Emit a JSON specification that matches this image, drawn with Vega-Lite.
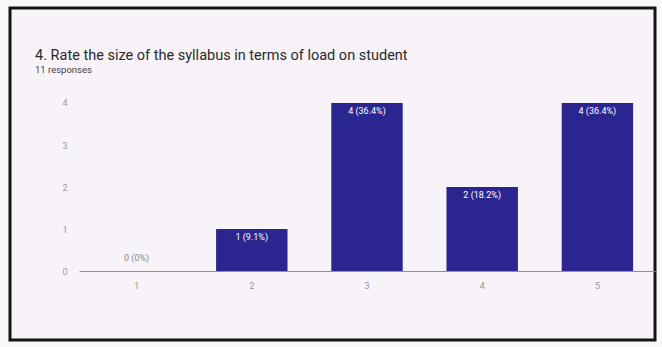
{
  "$schema": "https://vega.github.io/schema/vega-lite/v6.json",
  "autosize": "none",
  "width": 645,
  "height": 332,
  "padding": {"left": 10, "top": 8, "right": 7, "bottom": 7},
  "background": "#fbf8fb",
  "config": {
    "view": {"fill": "#f8f3f8", "stroke": "#151515", "strokeWidth": 3},
    "font": "Roboto"
  },
  "title": {
    "text": "4. Rate the size of the syllabus in terms of load on student",
    "subtitle": "11 responses",
    "anchor": "start",
    "frame": "group",
    "dx": 25,
    "offset": -67,
    "fontSize": 14.5,
    "fontWeight": "normal",
    "color": "#2a2a2a",
    "subtitleFontSize": 9.5,
    "subtitleColor": "#444",
    "subtitlePadding": 1
  },
  "data": {
    "values": [
      {"rating": "1", "count": 0, "label": "0 (0%)"},
      {"rating": "2", "count": 1, "label": "1 (9.1%)"},
      {"rating": "3", "count": 4, "label": "4 (36.4%)"},
      {"rating": "4", "count": 2, "label": "2 (18.2%)"},
      {"rating": "5", "count": 4, "label": "4 (36.4%)"}
    ]
  },
  "encoding": {
    "x": {
      "field": "rating",
      "type": "nominal",
      "sort": null,
      "scale": {"range": [69, 645], "paddingInner": 0.38, "paddingOuter": 0.19},
      "axis": {
        "title": null,
        "labelAngle": 0,
        "offset": -69,
        "domainColor": "#8a8fb0",
        "domainWidth": 1.2,
        "ticks": false,
        "labelPadding": 9,
        "labelFontSize": 9.5,
        "labelColor": "#999"
      }
    },
    "y": {
      "field": "count",
      "type": "quantitative",
      "scale": {"domain": [-1.64, 6.26], "nice": false, "zero": false},
      "axis": {
        "title": null,
        "values": [0, 1, 2, 3, 4],
        "grid": false,
        "domain": false,
        "ticks": false,
        "offset": -60,
        "labelPadding": 3,
        "labelFontSize": 9,
        "labelColor": "#9a9a9a"
      }
    }
  },
  "layer": [
    {
      "mark": {"type": "bar", "color": "#2b2590"},
      "encoding": {"y2": {"datum": 0}}
    },
    {
      "transform": [{"filter": "datum.count > 0"}],
      "mark": {"type": "text", "baseline": "top", "dy": 4, "fontSize": 9, "color": "#ffffff"},
      "encoding": {"text": {"field": "label"}}
    },
    {
      "transform": [{"filter": "datum.count == 0"}],
      "mark": {"type": "text", "baseline": "bottom", "dy": -8, "fontSize": 9, "color": "#888"},
      "encoding": {"text": {"field": "label"}}
    }
  ]
}
